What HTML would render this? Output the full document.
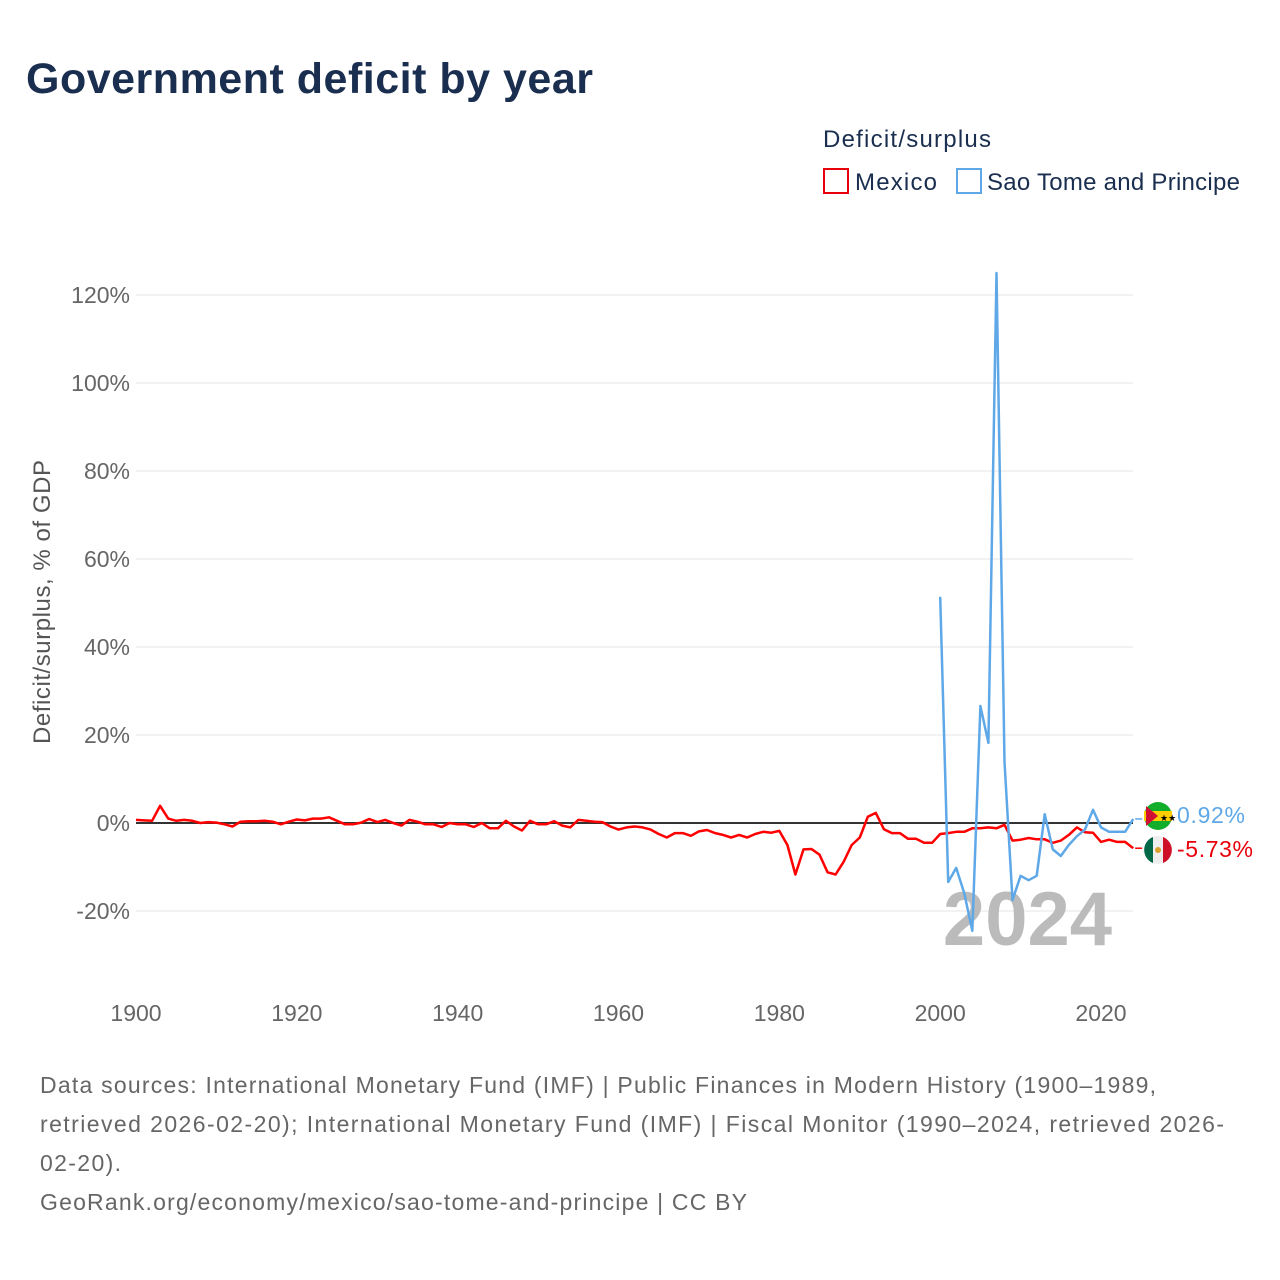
<!DOCTYPE html>
<html><head><meta charset="utf-8"><style>
body{margin:0;background:#fff;}
svg{display:block;font-family:"Liberation Sans",sans-serif;}
</style></head><body>
<svg width="1280" height="1280">
<text x="26" y="93" font-size="43" font-weight="bold" fill="#1a2e4f" textLength="567">Government deficit by year</text>
<text x="823" y="147" font-size="24" fill="#1a2e4f" textLength="168">Deficit/surplus</text>
<g><rect x="824" y="169" width="24" height="24" fill="none" stroke="#e8000b" stroke-width="2"/><text x="855" y="190" font-size="24" fill="#1a2e4f" textLength="82">Mexico</text></g>
<g><rect x="957" y="169" width="24" height="24" fill="none" stroke="#5fa8e8" stroke-width="2"/><text x="987" y="190" font-size="24" fill="#1a2e4f" textLength="253">Sao Tome and Principe</text></g>
<g id="grid"></g>
<g id="yt"></g>
<g id="xt"></g>
<text transform="translate(50,602) rotate(-90)" text-anchor="middle" font-size="24" fill="#555" textLength="284">Deficit/surplus, % of GDP</text>
<text x="1112" y="945" text-anchor="end" font-size="76" font-weight="bold" fill="#bbb">2024</text>
<g id="series"></g>
<g><circle cx="1158" cy="816" r="14" fill="#12ad2b"/><rect x="1144" y="811" width="28" height="10" fill="#ffce00"/><path d="M1146,806 L1158,816 L1146,826 Z" fill="#d21034"/><text x="1160" y="821" font-size="9" fill="#000">★★</text></g>
<g><circle cx="1158" cy="850" r="14" fill="#eee"/><path d="M1153,837 A14,14 0 0,0 1153,863 Z" fill="#006847"/><path d="M1163,837 A14,14 0 0,1 1163,863 Z" fill="#ce1126"/><circle cx="1158" cy="850" r="3" fill="#d9a030"/></g>
<text x="1177" y="823" font-size="23" fill="#5fa8e8" textLength="68">0.92%</text>
<text x="1177" y="857" font-size="23" fill="#e8000b" textLength="76">-5.73%</text>
<g font-size="23" fill="#666">
<text x="40" y="1093" textLength="1116">Data sources: International Monetary Fund (IMF) | Public Finances in Modern History (1900–1989,</text>
<text x="40" y="1132" textLength="1184">retrieved 2026-02-20); International Monetary Fund (IMF) | Fiscal Monitor (1990–2024, retrieved 2026-</text>
<text x="40" y="1171" textLength="81">02-20).</text>
<text x="40" y="1210" textLength="707">GeoRank.org/economy/mexico/sao-tome-and-principe | CC BY</text>
</g>
</svg>
<script>
const yTicks=[-20,0,20,40,60,80,100,120];
const xTicks=[1900,1920,1940,1960,1980,2000,2020];
const mexicoStart=1900;
const mexicoValues=[0.7,0.6,0.5,3.9,1,0.5,0.7,0.5,0,0.2,0.1,-0.3,-0.8,0.3,0.4,0.4,0.5,0.3,-0.3,0.3,0.8,0.6,1.0,1.0,1.3,0.5,-0.3,-0.3,0.1,0.9,0.2,0.7,0,-0.6,0.7,0.3,-0.3,-0.3,-0.9,0,-0.3,-0.3,-0.9,0,-1.2,-1.2,0.5,-0.8,-1.7,0.5,-0.3,-0.3,0.4,-0.6,-1.0,0.7,0.5,0.3,0.2,-0.8,-1.5,-1,-0.8,-1,-1.5,-2.5,-3.3,-2.3,-2.3,-2.9,-1.9,-1.6,-2.3,-2.7,-3.3,-2.7,-3.3,-2.5,-2,-2.2,-1.8,-5,-11.7,-6,-5.9,-7.2,-11.2,-11.7,-8.8,-5,-3.3,1.4,2.3,-1.4,-2.3,-2.3,-3.6,-3.6,-4.5,-4.5,-2.5,-2.3,-2,-2,-1.2,-1.2,-1,-1.2,-0.4,-4,-3.8,-3.4,-3.7,-3.7,-4.5,-4,-2.7,-1,-2.1,-2.2,-4.3,-3.8,-4.3,-4.3,-5.73];
const stpStart=2000;
const stpValues=[51.4,-13.4,-10.2,-16,-24.5,26.6,18.2,125,13.9,-17.5,-12,-13,-12,2,-6,-7.5,-5,-3,-1.5,3,-1,-2,-2,-2,0.92];
const X0=136,PX=(1101-136)/120,Y0=823,PY=4.4,XR=1133;
const xs=y=>X0+(y-1900)*PX, ys=v=>Y0-v*PY;
const NS="http://www.w3.org/2000/svg";
function mk(t,a,p){const e=document.createElementNS(NS,t);for(const k in a)e.setAttribute(k,a[k]);p.appendChild(e);return e;}
const grid=document.getElementById('grid'),yt=document.getElementById('yt'),xt=document.getElementById('xt'),ser=document.getElementById('series');
yTicks.forEach(v=>{
  const l=mk('line',{x1:X0,x2:XR,y1:ys(v),y2:ys(v),stroke:v===0?'#333':'#e6e6e6','stroke-width':v===0?2:1},grid);
  
  
  const t=mk('text',{x:130,y:ys(v)+8,'text-anchor':'end','font-size':23,fill:'#666'},yt);
  t.textContent=v+'%';
  
  
});
xTicks.forEach(y=>{
  const t=mk('text',{x:xs(y),y:1021,'text-anchor':'middle','font-size':23,fill:'#666'},xt);
  t.textContent=y;
  
  
});
function line(start,vals,color,name){
  const d=vals.map((v,i)=>(i?'L':'M')+xs(start+i).toFixed(1)+','+ys(v).toFixed(1)).join(' ');
  const p=mk('path',{d:d,fill:'none',stroke:color,'stroke-width':2.5,'stroke-linejoin':'round'},ser);
  
  
  const last=vals[vals.length-1],lx=xs(start+vals.length-1);
  const c=mk('line',{x1:lx+2,x2:lx+9,y1:ys(last),y2:ys(last),stroke:color,'stroke-width':1.5},ser);
  
  
}
line(mexicoStart,mexicoValues,'#ff0000','line-mexico');
line(stpStart,stpValues,'#5fa8e8','line-sao-tome');
</script>
</body></html>
